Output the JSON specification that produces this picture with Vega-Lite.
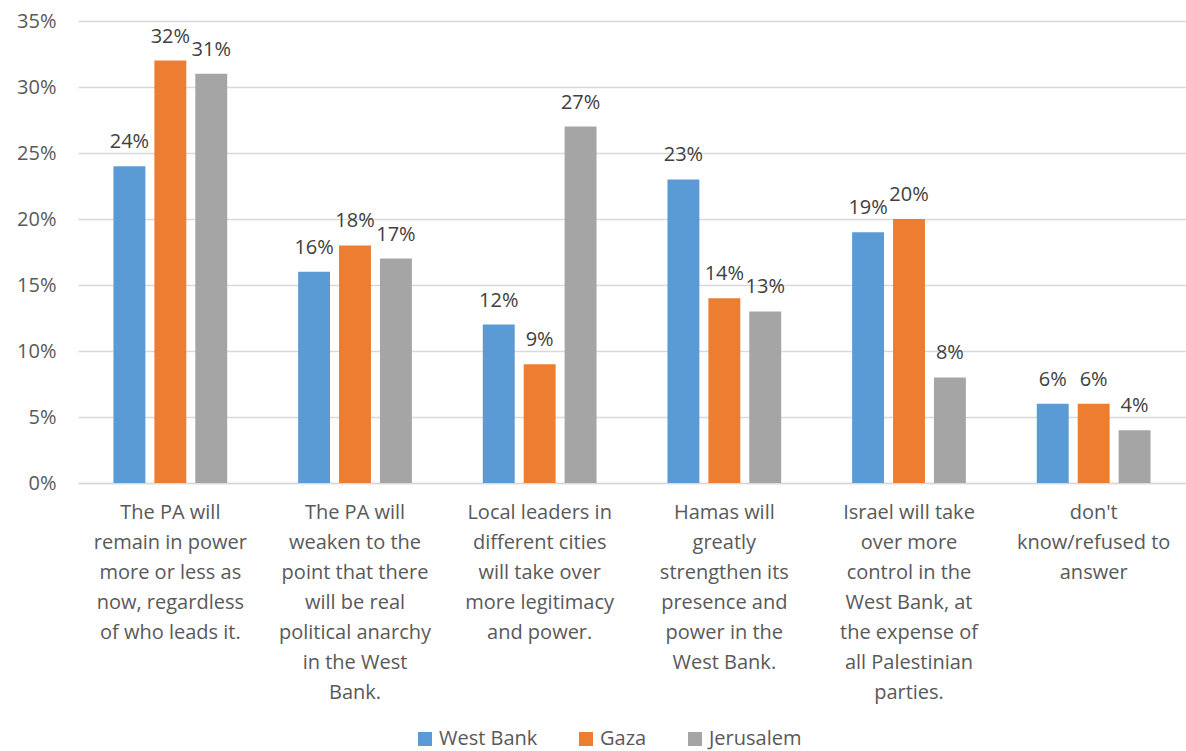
{
  "$schema": "https://vega.github.io/schema/vega-lite/v6.json",
  "autosize": "none",
  "width": 1108,
  "height": 462,
  "padding": {"left": 78, "top": 21, "right": 0, "bottom": 268},
  "background": "white",
  "config": {
    "font": "Open Sans",
    "view": {"stroke": null}
  },
  "data": {
    "values": [
      {"category": "The PA will|remain in power|more or less as|now, regardless|of who leads it.", "series": "West Bank", "value": 0.24},
      {"category": "The PA will|remain in power|more or less as|now, regardless|of who leads it.", "series": "Gaza", "value": 0.32},
      {"category": "The PA will|remain in power|more or less as|now, regardless|of who leads it.", "series": "Jerusalem", "value": 0.31},
      {"category": "The PA will|weaken to the|point that there|will be real|political anarchy|in the West|Bank.", "series": "West Bank", "value": 0.16},
      {"category": "The PA will|weaken to the|point that there|will be real|political anarchy|in the West|Bank.", "series": "Gaza", "value": 0.18},
      {"category": "The PA will|weaken to the|point that there|will be real|political anarchy|in the West|Bank.", "series": "Jerusalem", "value": 0.17},
      {"category": "Local leaders in|different cities|will take over|more legitimacy|and power.", "series": "West Bank", "value": 0.12},
      {"category": "Local leaders in|different cities|will take over|more legitimacy|and power.", "series": "Gaza", "value": 0.09},
      {"category": "Local leaders in|different cities|will take over|more legitimacy|and power.", "series": "Jerusalem", "value": 0.27},
      {"category": "Hamas will|greatly|strengthen its|presence and|power in the|West Bank.", "series": "West Bank", "value": 0.23},
      {"category": "Hamas will|greatly|strengthen its|presence and|power in the|West Bank.", "series": "Gaza", "value": 0.14},
      {"category": "Hamas will|greatly|strengthen its|presence and|power in the|West Bank.", "series": "Jerusalem", "value": 0.13},
      {"category": "Israel will take|over more|control in the|West Bank, at|the expense of|all Palestinian|parties.", "series": "West Bank", "value": 0.19},
      {"category": "Israel will take|over more|control in the|West Bank, at|the expense of|all Palestinian|parties.", "series": "Gaza", "value": 0.20},
      {"category": "Israel will take|over more|control in the|West Bank, at|the expense of|all Palestinian|parties.", "series": "Jerusalem", "value": 0.08},
      {"category": "don't|know/refused to|answer", "series": "West Bank", "value": 0.06},
      {"category": "don't|know/refused to|answer", "series": "Gaza", "value": 0.06},
      {"category": "don't|know/refused to|answer", "series": "Jerusalem", "value": 0.04}
    ]
  },
  "encoding": {
    "x": {
      "field": "category", "type": "nominal", "sort": null, "title": null,
      "scale": {"paddingInner": 0.384, "paddingOuter": 0.192},
      "axis": {
        "labelAngle": 0, "labelExpr": "split(datum.label, '|')", "labelLineHeight": 30,
        "labelPadding": 19, "ticks": false, "domain": true, "domainColor": "#D9D9D9", "domainWidth": 1.5,
        "labelBaseline": "top", "labelFontSize": 20, "labelColor": "#595959", "labelFont": "Open Sans",
        "labelOverlap": false, "labelLimit": 0
      }
    },
    "xOffset": {"field": "series", "type": "nominal", "sort": ["West Bank", "Gaza", "Jerusalem"], "scale": {"paddingInner": 0.22, "paddingOuter": 0}},
    "y": {
      "field": "value", "type": "quantitative", "title": null,
      "scale": {"domain": [0, 0.35], "nice": false},
      "axis": {"format": ".0%", "values": [0, 0.05, 0.1, 0.15, 0.2, 0.25, 0.3, 0.35], "domain": false, "ticks": false, "labelPadding": 22, "gridColor": "#D9D9D9", "gridWidth": 1.5,
        "labelFontSize": 20, "labelColor": "#595959", "labelFont": "Open Sans", "labelOverlap": false}
    }
  },
  "layer": [
    {
      "mark": {"type": "bar"},
      "encoding": {
        "color": {
          "field": "series", "type": "nominal",
          "scale": {"domain": ["West Bank", "Gaza", "Jerusalem"], "range": ["#5B9BD5", "#ED7D31", "#A5A5A5"]},
          "legend": {
            "title": null, "orient": "none", "direction": "horizontal", "legendX": 337, "legendY": 708,
            "symbolType": "square", "symbolSize": 196, "symbolStrokeWidth": 0,
            "labelFontSize": 20, "labelColor": "#595959", "labelFont": "Open Sans", "labelOffset": 4,
            "columnPadding": 38
          }
        }
      }
    },
    {
      "mark": {"type": "text", "baseline": "alphabetic", "dy": -18, "fontSize": 20, "color": "#404040", "font": "Open Sans"},
      "encoding": {
        "text": {"field": "value", "type": "quantitative", "format": ".0%"}
      }
    }
  ]
}
